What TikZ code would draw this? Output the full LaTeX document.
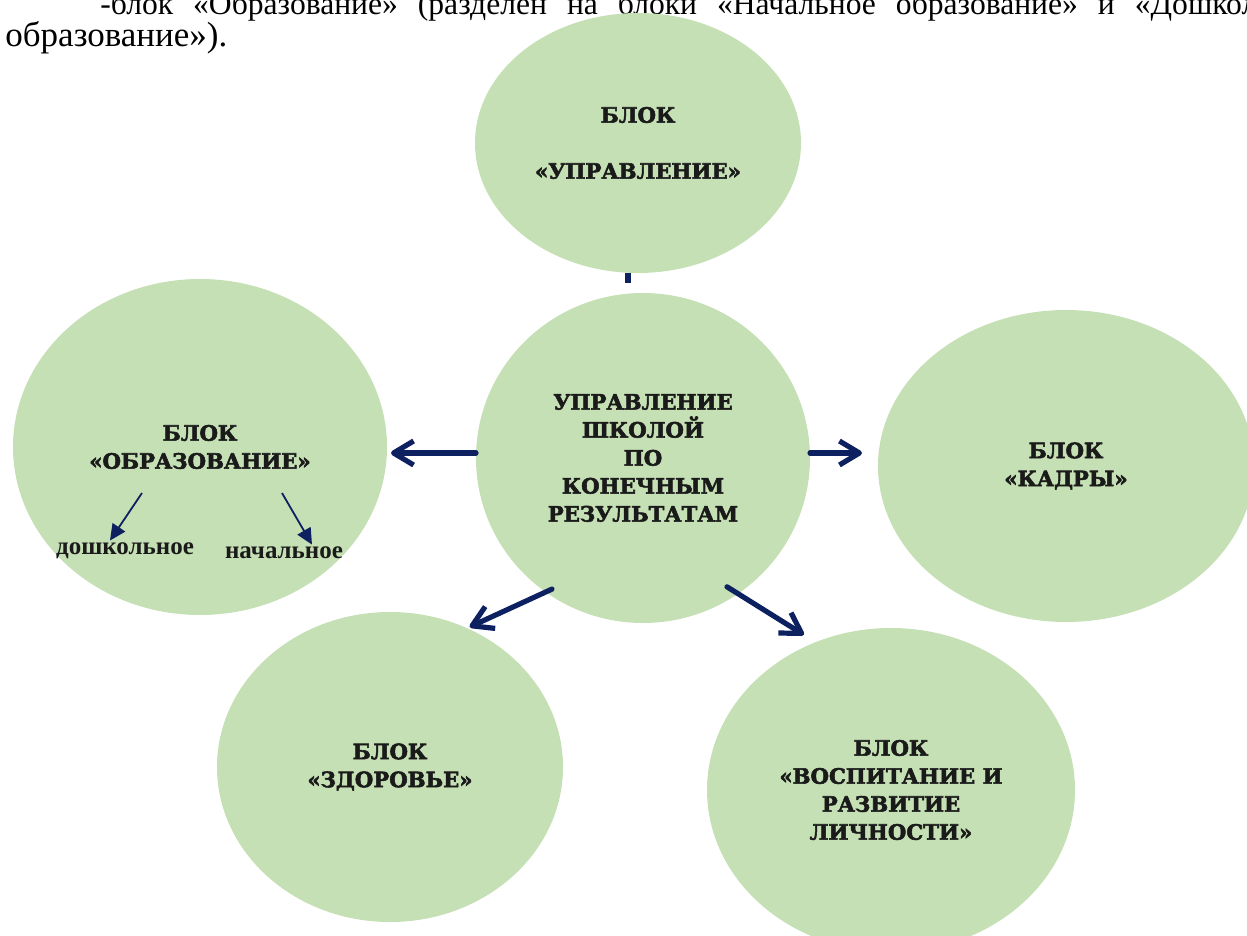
\documentclass[tikz,border=0pt]{standalone}
\usepackage{fontspec}
\setmainfont{Liberation Serif}
\newfontfamily\blokfont{DejaVu Serif}[BoldFeatures={FakeBold=2.5}]
\usetikzlibrary{shapes.geometric}
\usetikzlibrary{arrows.meta}
\usetikzlibrary{positioning}
\definecolor{blokgreen}{HTML}{C5E0B4}
\definecolor{strelka}{HTML}{0D2060}
\definecolor{tekst}{HTML}{1A1A1A}
\newcommand{\blokText}{\blokfont\bfseries\fontsize{10.6}{14}\selectfont}
\newcommand{\podText}{\bfseries\fontsize{12.5}{14}\selectfont}
\tikzset{
  blok/.style={ellipse, fill=blokgreen, inner sep=0pt, outer sep=0pt, align=center, text=tekst, font=\blokText},
  bolshaya/.style={draw=strelka, line width=2.6pt, line cap=round, -{Straight Barb[length=10pt,width=12pt,line join=round]}},
  malaya/.style={draw=strelka, line width=0.9pt, -{Triangle[length=8pt,width=7.5pt]}}
}

\begin{document}
\begin{tikzpicture}[x=0.5pt,y=-0.5pt]
  \useasboundingbox (0,0) rectangle (1247,936);
  \clip (0,0) rectangle (1247,936);
  % text above the picture
  \node[anchor=base west, inner sep=0pt, font=\fontsize{15.8}{19}\selectfont] (abz1) at (100,15)
    {\spaceskip=10pt -блок «Образование» (разделен на блоки «Начальное образование» и «Дошкольное};
  \node[anchor=base west, inner sep=0pt, font=\fontsize{17.5}{19}\selectfont] (abz2) at (5,47) {образование»).};

  % blocks
  \node[blok, minimum width=163pt, minimum height=130pt] (upr) at (638,143) {БЛОК\\[14pt]«УПРАВЛЕНИЕ»};
  \node[blok, minimum width=167pt, minimum height=165pt] (centr) at (643,458)
    {УПРАВЛЕНИЕ\\ШКОЛОЙ\\ПО\\КОНЕЧНЫМ\\РЕЗУЛЬТАТАМ};
  \node[blok, minimum width=187pt, minimum height=168pt] (obr) at (200,447) {БЛОК\\«ОБРАЗОВАНИЕ»};
  \node[blok, minimum width=188pt, minimum height=156pt] (kadry) at (1066,466) {БЛОК\\«КАДРЫ»};
  \node[blok, minimum width=173pt, minimum height=155pt] (zdor) at (390,767) {БЛОК\\«ЗДОРОВЬЕ»};
  \node[blok, minimum width=184pt, minimum height=162pt] (vosp) at (891,790)
    {БЛОК\\«ВОСПИТАНИЕ И\\РАЗВИТИЕ\\ЛИЧНОСТИ»};

  % sub-blocks of education
  \node[inner sep=1pt, text=tekst, font=\podText] (doshk) at (125,551) {дошкольное};
  \node[inner sep=1pt, text=tekst, font=\podText] (nach) at (284,553) {начальное};
  \coordinate (d1) at (142,493);
  \coordinate (n1) at (282,493);
  \draw[malaya] (d1) -- ([xshift=-7.5pt]doshk.north);
  \draw[malaya] (n1) -- ([xshift=14pt]nach.north);

  % arrows
  \draw[draw=strelka, line width=2.6pt] ([xshift=-5pt]upr.south) -- ++(0,10);
  \draw[bolshaya, shorten >=2pt] ([yshift=2.5pt]centr.west) -- ([yshift=2.5pt]centr.west -| obr.east);
  \draw[bolshaya, shorten >=8pt] ([yshift=2.5pt]centr.east) -- ([yshift=2.5pt]centr.east -| kadry.west);
  \draw[bolshaya, shorten <=-3.5pt, shorten >=1.5pt] (centr.234) -- (zdor.61);
  \draw[bolshaya, shorten <=-6.5pt, shorten >=7pt] (centr.305) -- (vosp.117);
\end{tikzpicture}
\end{document}
